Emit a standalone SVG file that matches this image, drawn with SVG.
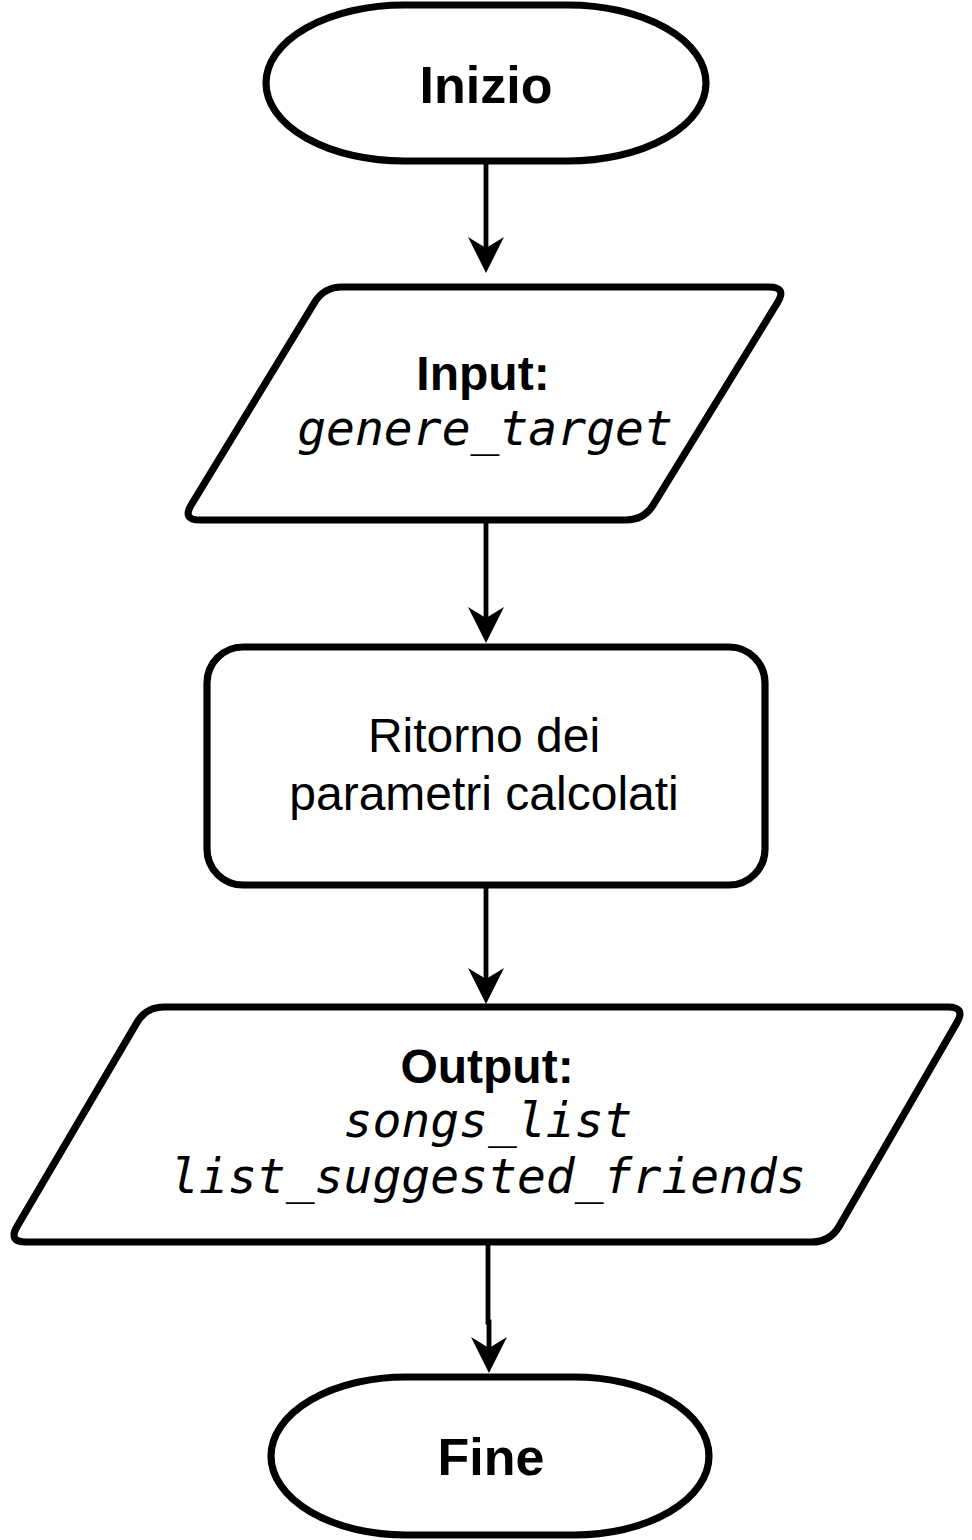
<svg xmlns="http://www.w3.org/2000/svg" width="972" height="1540" viewBox="0 0 972 1540">
  <style>
    .shape { fill: #ffffff; stroke: #000000; stroke-width: 7.2; stroke-linejoin: round; }
    .edge { fill: none; stroke: #000000; stroke-width: 4.8; }
    .bold { font-family: "Liberation Sans", Arial, sans-serif; font-weight: bold; fill: #000000; text-anchor: middle; }
    .reg { font-family: "Liberation Sans", Arial, sans-serif; font-size: 48px; fill: #000000; text-anchor: middle; }
    .mono { font-family: "DejaVu Sans Mono", monospace; font-style: oblique; font-size: 48px; fill: #000000; text-anchor: middle; }
  </style>
  <defs>
    <marker id="arrow" markerUnits="userSpaceOnUse" markerWidth="40" markerHeight="40" viewBox="0 -20 40 40" refX="11" refY="0" orient="auto">
      <path d="M0,-18 L36,0 L0,18 L11,0 Z" fill="#000000"/>
    </marker>
  </defs>
  <rect width="972" height="1540" fill="#ffffff"/>

  <g id="connectors">
    <path class="edge" d="M486,161 V248" marker-end="url(#arrow)"/>
    <path class="edge" d="M486,520 V618" marker-end="url(#arrow)"/>
    <path class="edge" d="M486,885 V979" marker-end="url(#arrow)"/>
    <path class="edge" d="M488,1242 V1322 H489 V1348" marker-end="url(#arrow)"/>
  </g>

  <g id="node-inizio">
    <rect class="shape" x="266" y="5" width="440" height="156" rx="138" ry="78"/>
    <text class="bold" x="486" y="103" font-size="52">Inizio</text>
  </g>

  <g id="node-input">
    <path class="shape" d="M342,287 H769 Q787,287 777.6,302.4 L653.4,504.6 Q644,520 626,520 H200 Q182,520 191.4,504.6 L314.6,302.4 Q324,287 342,287 Z"/>
    <text class="bold" x="483" y="390" font-size="48">Input:</text>
    <text class="mono" x="485" y="445">genere_target</text>
  </g>

  <g id="node-ritorno">
    <rect class="shape" x="207" y="647" width="558" height="238" rx="36" ry="36"/>
    <text class="reg" x="484" y="752">Ritorno dei</text>
    <text class="reg" x="484" y="810">parametri calcolati</text>
  </g>

  <g id="node-output">
    <path class="shape" d="M164,1007 H948 Q966,1007 956.9,1022.6 L839.1,1226.4 Q830,1242 812,1242 H26 Q8,1242 17.1,1226.4 L136.9,1022.6 Q146,1007 164,1007 Z"/>
    <text class="bold" x="487" y="1083" font-size="48">Output:</text>
    <text class="mono" x="488" y="1137">songs_list</text>
    <text class="mono" x="488" y="1193">list_suggested_friends</text>
  </g>

  <g id="node-fine">
    <rect class="shape" x="271" y="1377" width="438" height="158" rx="135" ry="79"/>
    <text class="bold" x="491" y="1475" font-size="52">Fine</text>
  </g>
</svg>
